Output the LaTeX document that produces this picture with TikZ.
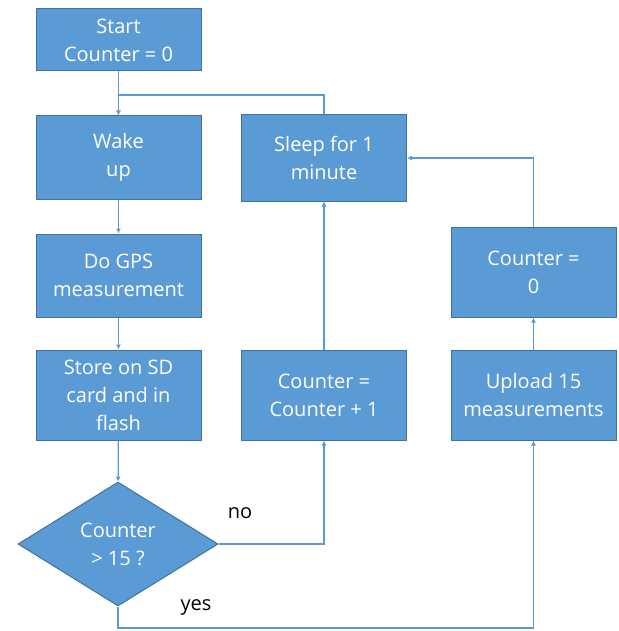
\documentclass[tikz,border=0pt]{standalone}
\usepackage{fontspec}
\setmainfont{Open Sans}
\usetikzlibrary{shapes.geometric,arrows.meta}
\definecolor{boxfill}{RGB}{91,155,213}
\definecolor{boxline}{RGB}{65,113,156}
\begin{document}
\begin{tikzpicture}[x=1pt,y=-1pt,
  box/.style={rectangle, fill=boxfill, draw=boxline, line width=1pt, text=white,
    align=center, font=\fontsize{20}{28}\selectfont, inner sep=0pt, minimum width=165pt},
  dec/.style={diamond, fill=boxfill, draw=boxline, line width=1pt, text=white,
    align=center, font=\fontsize{20}{28}\selectfont, inner sep=0pt, aspect=1.6,
    minimum width=200pt, minimum height=124pt},
  conn/.style={draw=boxfill, line width=1.2pt, -{Latex[length=5pt,width=5pt]}},
  line/.style={draw=boxfill, line width=1.2pt},
  lbl/.style={text=black, font=\fontsize{20}{24}\selectfont, inner sep=0pt}]
\useasboundingbox (0,0) rectangle (618,631);
\fill[white] (0,0) rectangle (618,631);
\node[box, minimum height=62pt] (start) at (118.5,40) {Start\\Counter = 0};
\node[box, minimum height=83pt] (wake) at (118.5,157.5) {Wake\\up};
\node[box, minimum height=83pt] (gps) at (118.5,275.5) {Do GPS\\measurement};
\node[box, minimum height=90pt] (store) at (118.5,395) {Store on SD\\card and in\\flash};
\node[dec] (dec) at (118,544) {Counter\\> 15 ?};
\node[box, minimum height=86pt] (sleep) at (324,158) {Sleep for 1\\minute};
\node[box, minimum height=90pt] (inc) at (324,395) {Counter =\\Counter + 1};
\node[box, minimum height=90pt] (zero) at (533.5,272) {Counter =\\0};
\node[box, minimum height=90pt] (upload) at (533.5,395) {Upload 15\\measurements};
\node[lbl] (no) at (240,513) {no};
\node[lbl] (yes) at (196,607) {yes};
\coordinate (j1) at (118.5,95);
\coordinate (j2) at (118,628);
\draw[conn] (start) -- (wake);
\draw[line] (sleep.north) |- (j1);
\draw[conn] (wake) -- (gps);
\draw[conn] (gps) -- (store);
\draw[conn] (store) -- (dec);
\draw[conn] (zero.north) |- (sleep.east);
\draw[conn] (inc) -- (sleep);
\draw[conn] (upload) -- (zero);
\draw[conn] (dec.east) -| (inc.south);
\draw[conn] (dec.south) -- (j2) -| (upload.south);
\end{tikzpicture}
\end{document}
